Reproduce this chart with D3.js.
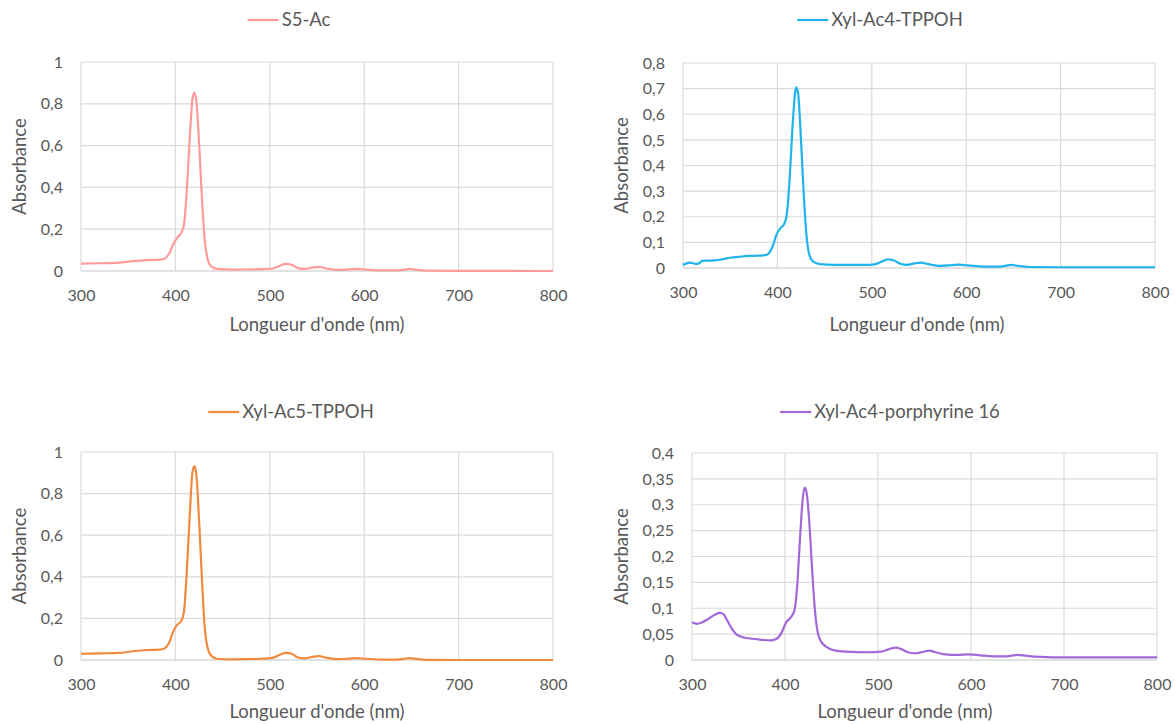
<!DOCTYPE html>
<html><head><meta charset="utf-8">
<script src="https://cdn.jsdelivr.net/npm/d3@7"></script>
<style>
html,body{margin:0;padding:0;background:#fff;}
svg{display:block;font-family:Lato,"Open Sans",sans-serif;}
</style></head>
<body>
<svg id="chart" width="1175" height="724"></svg>
<script>
// ---- data ----
const seriesNames = ["S5-Ac", "Xyl-Ac4-TPPOH", "Xyl-Ac5-TPPOH", "Xyl-Ac4-porphyrine 16"];
const xTicks = [300, 400, 500, 600, 700, 800];
const yTicksA = [0, 0.2, 0.4, 0.6, 0.8, 1];
const yTicksB = [0, 0.1, 0.2, 0.3, 0.4, 0.5, 0.6, 0.7, 0.8];
const yTicksC = [0, 0.2, 0.4, 0.6, 0.8, 1];
const yTicksD = [0, 0.05, 0.1, 0.15, 0.2, 0.25, 0.3, 0.35, 0.4];

const s5Ac = [[300,0.035],[320,0.037],[340,0.04],[355,0.047],[370,0.052],[383,0.054],[388,0.058],[393,0.08],[398,0.13],[402,0.16],[406,0.18],[409,0.22],[412,0.38],[415,0.62],[418,0.82],[420,0.853],[422,0.82],[425,0.62],[428,0.36],[431,0.15],[434,0.06],[438,0.022],[444,0.01],[460,0.007],[490,0.009],[503,0.012],[510,0.024],[517,0.034],[523,0.03],[530,0.014],[537,0.01],[545,0.016],[552,0.02],[560,0.012],[572,0.005],[585,0.008],[592,0.01],[602,0.007],[620,0.003],[635,0.003],[642,0.006],[648,0.01],[655,0.006],[665,0.002],[700,0.001],[800,0.0]];

const xylAc4 = [[300,0.012],[303,0.017],[307,0.021],[310,0.02],[313,0.016],[316,0.017],[318,0.02],[320,0.028],[324,0.029],[330,0.029],[340,0.033],[350,0.04],[360,0.044],[370,0.047],[380,0.048],[387,0.05],[391,0.058],[395,0.085],[399,0.13],[403,0.155],[407,0.17],[410,0.21],[413,0.35],[416,0.55],[419,0.69],[420,0.705],[422,0.68],[425,0.5],[428,0.28],[431,0.12],[434,0.05],[438,0.025],[445,0.015],[460,0.012],[490,0.012],[503,0.014],[510,0.024],[517,0.034],[523,0.03],[530,0.017],[537,0.012],[545,0.018],[552,0.021],[560,0.015],[572,0.008],[585,0.011],[592,0.013],[602,0.01],[620,0.005],[635,0.005],[642,0.009],[648,0.012],[655,0.008],[668,0.004],[700,0.003],[800,0.003]];

const xylAc5 = [[300,0.03],[320,0.032],[340,0.034],[355,0.042],[370,0.048],[383,0.05],[388,0.054],[393,0.08],[398,0.14],[402,0.17],[406,0.185],[409,0.23],[412,0.42],[415,0.68],[418,0.9],[420,0.932],[422,0.9],[425,0.68],[428,0.4],[431,0.16],[434,0.06],[438,0.02],[444,0.006],[460,0.003],[490,0.006],[503,0.01],[510,0.024],[517,0.034],[523,0.03],[530,0.012],[537,0.008],[545,0.015],[552,0.019],[560,0.011],[572,0.004],[585,0.007],[592,0.009],[602,0.006],[620,0.002],[635,0.002],[642,0.006],[648,0.009],[655,0.005],[665,0.001],[700,0.0],[800,0.0]];

const xylPorph = [[300,0.073],[305,0.07],[310,0.072],[318,0.08],[325,0.088],[330,0.091],[334,0.088],[338,0.076],[343,0.06],[348,0.049],[355,0.044],[365,0.041],[375,0.039],[385,0.038],[391,0.041],[396,0.052],[401,0.072],[406,0.082],[410,0.095],[413,0.14],[416,0.23],[419,0.31],[421,0.333],[423,0.325],[426,0.27],[429,0.18],[432,0.1],[435,0.055],[439,0.035],[445,0.025],[452,0.019],[465,0.016],[490,0.015],[503,0.016],[512,0.021],[519,0.024],[525,0.021],[532,0.015],[540,0.013],[549,0.016],[555,0.018],[562,0.015],[572,0.011],[585,0.01],[598,0.011],[610,0.009],[625,0.007],[638,0.007],[650,0.01],[660,0.008],[675,0.006],[700,0.005],[800,0.005]];

// ---- layout ----
const panels = [
  {name: seriesNames[0], data: s5Ac,    color: "#FF9B9B", yTicks: yTicksA, x0: 81,  x1: 553,  y0: 62,  y1: 271, legendCx: 289, legendY: 20,  yTitleX: 20,  xTitleCx: 317, xTitleY: 325},
  {name: seriesNames[1], data: xylAc4,  color: "#1FB4EC", yTicks: yTicksB, x0: 683, x1: 1155, y0: 63,  y1: 268, legendCx: 880, legendY: 20,  yTitleX: 622, xTitleCx: 917, xTitleY: 325},
  {name: seriesNames[2], data: xylAc5,  color: "#F08A3E", yTicks: yTicksC, x0: 81,  x1: 553,  y0: 452, y1: 660, legendCx: 291, legendY: 412, yTitleX: 20,  xTitleCx: 317, xTitleY: 712},
  {name: seriesNames[3], data: xylPorph,color: "#A368D8", yTicks: yTicksD, x0: 692, x1: 1157, y0: 453, y1: 660, legendCx: 890, legendY: 412, yTitleX: 622, xTitleCx: 905, xTitleY: 712}
];

const svg = d3.select("#chart");
const fmt = v => String(+v.toFixed(2)).replace(".", ",");
const textColor = "#595959";
const tickFs = 16;
const titleFs = 18.5;

panels.forEach(p => {
  const x = d3.scaleLinear().domain([300, 800]).range([p.x0, p.x1]);
  const y = d3.scaleLinear().domain([0, d3.max(p.yTicks)]).range([p.y1, p.y0]);
  const g = svg.append("g");

  // gridlines
  g.selectAll(".hg").data(p.yTicks).join("line")
    .attr("x1", p.x0).attr("x2", p.x1)
    .attr("y1", d => y(d)).attr("y2", d => y(d))
    .attr("stroke", d => d === 0 ? "#c6c6c6" : "#dadada").attr("stroke-width", 1.2);
  g.selectAll(".vg").data(xTicks).join("line")
    .attr("x1", d => x(d)).attr("x2", d => x(d))
    .attr("y1", p.y0).attr("y2", p.y1)
    .attr("stroke", "#dadada").attr("stroke-width", 1.2);

  // axes (labels only)
  const xa = g.append("g").attr("transform", `translate(0,${p.y1})`)
    .call(d3.axisBottom(x).tickValues(xTicks).tickSize(0).tickPadding(19).tickFormat(d => d));
  const ya = g.append("g").attr("transform", `translate(${p.x0},0)`)
    .call(d3.axisLeft(y).tickValues(p.yTicks).tickSize(0).tickPadding(18).tickFormat(fmt));
  [xa, ya].forEach(a => {
    a.select(".domain").remove();
    a.selectAll("text").attr("fill", textColor).style("font-size", tickFs + "px").style("font-family", "Lato");
  });

  // line
  const line = d3.line().x(d => x(d[0])).y(d => y(d[1])).curve(d3.curveMonotoneX);
  g.append("path").datum(p.data).attr("d", line)
    .attr("fill", "none").attr("stroke", p.color).attr("stroke-width", 2.2).attr("stroke-linejoin", "round");

  // axis titles
  g.append("text").attr("x", p.xTitleCx).attr("y", p.xTitleY).attr("dy", "0.35em")
    .attr("text-anchor", "middle").attr("fill", textColor).style("font-size", titleFs + "px")
    .text("Longueur d'onde (nm)");
  g.append("text").attr("transform", `translate(${p.yTitleX},${(p.y0 + p.y1) / 2}) rotate(-90)`)
    .attr("text-anchor", "middle").attr("dy", "0.35em").attr("fill", textColor).style("font-size", titleFs + "px")
    .text("Absorbance");

  // legend
  const lg = g.append("g");
  const t = lg.append("text").attr("y", p.legendY).attr("dy", "0.35em")
    .attr("fill", textColor).style("font-size", titleFs + "px").text(p.name);
  const tw = t.node().getComputedTextLength();
  const total = 31 + 3 + tw;
  const lx = p.legendCx - total / 2;
  lg.append("line").attr("x1", lx).attr("x2", lx + 31).attr("y1", p.legendY).attr("y2", p.legendY)
    .attr("stroke", p.color).attr("stroke-width", 2.2);
  t.attr("x", lx + 34);
});
</script>
</body></html>
